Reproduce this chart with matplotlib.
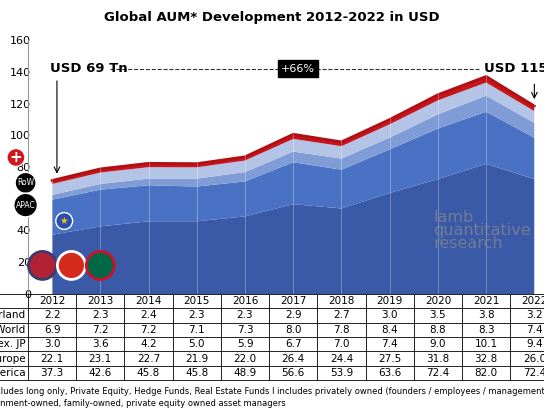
import numpy as np
import matplotlib.pyplot as plt

years = [2012, 2013, 2014, 2015, 2016, 2017, 2018, 2019, 2020, 2021, 2022]
north_america = [37.3, 42.6, 45.8, 45.8, 48.9, 56.6, 53.9, 63.6, 72.4, 82.0, 72.4]
europe = [22.1, 23.1, 22.7, 21.9, 22.0, 26.4, 24.4, 27.5, 31.8, 32.8, 26.0]
apac_ex_jp = [3.0, 3.6, 4.2, 5.0, 5.9, 6.7, 7.0, 7.4, 9.0, 10.1, 9.4]
rest_of_world = [6.9, 7.2, 7.2, 7.1, 7.3, 8.0, 7.8, 8.4, 8.8, 8.3, 7.4]
switzerland = [2.2, 2.3, 2.4, 2.3, 2.3, 2.9, 2.7, 3.0, 3.5, 3.8, 3.2]

row_labels = ["Switzerland", "Rest of World", "APAC ex. JP", "Europe", "North America"]
rows = [switzerland, rest_of_world, apac_ex_jp, europe, north_america]
colors = ["#3a5aa8", "#4a72c4", "#7f9cd6", "#b4c4e6", "#c4161c"]

W, H = 544, 408
fig = plt.figure(figsize=(W / 100, H / 100), dpi=100)
x = np.arange(len(years))
xlim = (-0.5, 10.2)

ax = fig.add_axes([28 / W, 1 - 294 / H, 1 - 28 / W, 254 / H])
ax.stackplot(x, north_america, europe, apac_ex_jp, rest_of_world, switzerland,
             colors=colors, edgecolor="none")
top = np.sum([north_america, europe, apac_ex_jp, rest_of_world, switzerland], axis=0)
ax.plot(x, top, color="#b01015", lw=2)
for xi in x:
    ax.axvline(xi, color="white", lw=0.6, alpha=0.35)
ax.set_xlim(*xlim)
ax.set_ylim(0, 160)
ax.set_yticks(range(0, 161, 20))
ax.tick_params(axis="y", labelsize=8, length=0, pad=-2)
ax.set_xticks([])
for s in ["top", "right", "bottom"]:
    ax.spines[s].set_visible(False)
ax.spines["left"].set_color("#999999")
ax.spines["left"].set_position(("data", -0.5))

ax.text(-0.05, 142, "USD 69 Tn", fontsize=9.5, fontweight="bold", ha="left", va="center")
ax.text(8.95, 142, "USD 115 Tn", fontsize=9.5, fontweight="bold", ha="left", va="center")
ax.plot([1.2, 8.85], [142, 142], ls="--", color="#333333", lw=0.8)
ax.text(5.1, 142, "+66%", fontsize=8, color="white", ha="center", va="center",
        bbox=dict(boxstyle="square,pad=0.3", fc="black", ec="black"))
ax.annotate("", xy=(0.1, 74), xytext=(0.1, 136),
            arrowprops=dict(arrowstyle="->", color="black", lw=0.8))
ax.annotate("", xy=(10.0, 121), xytext=(10.0, 134),
            arrowprops=dict(arrowstyle="->", color="black", lw=0.8))
ax.text(7.9, 40, "lamb\nquantitative\nresearch", fontsize=11.5, color="#8a8a8a",
        alpha=0.7, ha="left", va="center", linespacing=0.8)

# markers standing in for the region badges
badges = [(-0.55, 70, "RoW"), (-0.55, 56, "APAC")]
for bx, by, t in badges:
    ax.text(bx, by, t, fontsize=5.5, color="white", ha="center", va="center",
            bbox=dict(boxstyle="circle,pad=0.25", fc="black", ec="white"), clip_on=False)
ax.text(-0.75, 86, "+", fontsize=11, fontweight="bold", color="white", ha="center", va="center",
        bbox=dict(boxstyle="circle,pad=0.1", fc="#d0181e", ec="white"), clip_on=False)
ax.text(0.25, 46, "★", fontsize=7, color="#f2c400", ha="center", va="center",
        bbox=dict(boxstyle="circle,pad=0.35", fc="#2a4fb0", ec="white"))
for i, (fc, ec) in enumerate([("#b22234", "#3c3b6e"), ("#d52b1e", "white"), ("#006847", "#ce1126")]):
    ax.text(-0.2 + i * 0.6, 18, " ", fontsize=9, ha="center", va="center",
            bbox=dict(boxstyle="circle,pad=0.6", fc=fc, ec=ec, lw=2))

# table
tab = fig.add_axes([28 / W, 1 - 380 / H, 1 - 28 / W, 86 / H])
tab.set_xlim(*xlim)
tab.set_ylim(6, 0)
tab.axis("off")
for r in range(7):
    tab.plot([-1.5, 10.6], [r, r], color="black", lw=0.6, clip_on=False)
for c in range(len(years) + 1):
    tab.plot([c - 0.5, c - 0.5], [0, 6], color="black", lw=0.6, clip_on=False)
for j, y in enumerate(years):
    tab.text(j, 0.5, str(y), ha="center", va="center", fontsize=7.5)
for i, (lab, vals) in enumerate(zip(row_labels, rows)):
    tab.text(-0.55, i + 1.5, lab, ha="right", va="center", fontsize=7.5, clip_on=False)
    for j, v in enumerate(vals):
        tab.text(j, i + 1.5, f"{v:.1f}", ha="center", va="center", fontsize=7.5)

fig.text(0.5, 1 - 18 / H, "Global AUM* Development 2012-2022 in USD", ha="center",
         va="center", fontsize=9.5, fontweight="bold")
fig.text(-0.03, 1 - 392 / H,
         "*Includes long only, Private Equity, Hedge Funds, Real Estate Funds I includes privately owned "
         "(founders / employees / management /partners), listed,",
         fontsize=6, va="center")
fig.text(-0.045, 1 - 404 / H,
         "government-owned, family-owned, private equity owned asset managers", fontsize=6, va="center")

fig.savefig("out.png", dpi=100)
